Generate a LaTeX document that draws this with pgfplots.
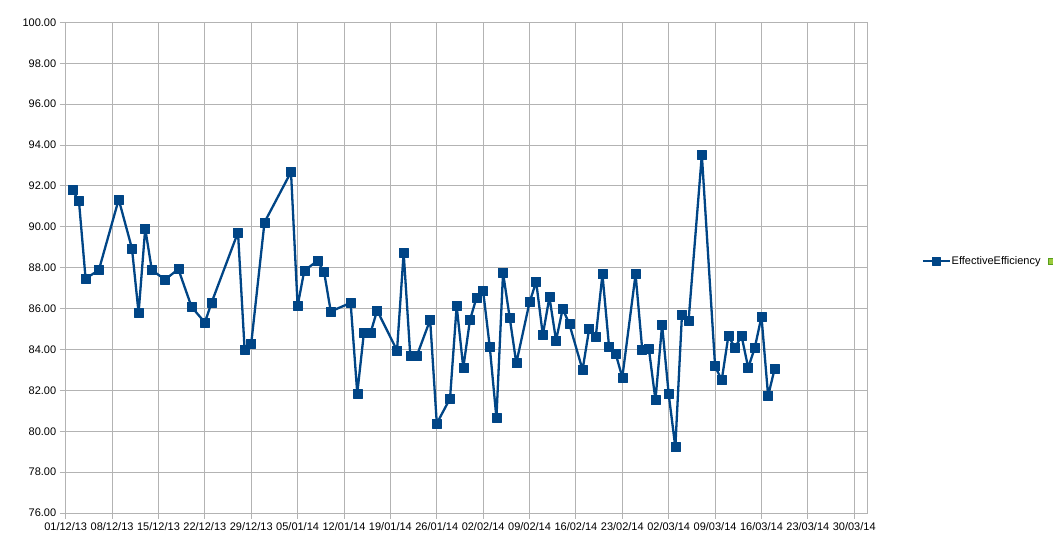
\documentclass[border=0pt]{standalone}
\usepackage{fontspec}
\setmainfont{Liberation Sans}
\usepackage{pgfplots}
\pgfplotsset{compat=1.18}
\definecolor{ser}{HTML}{004586}
\definecolor{gridc}{HTML}{B3B3B3}
\definecolor{grn}{HTML}{9CCB3C}
\definecolor{grnd}{HTML}{579D1C}
\pgfplotsset{legend image code/.code={\draw[#1, mark size=3.8pt, mark repeat=2, mark phase=2] plot coordinates {(0pt,0pt) (13.5pt,0pt) (27pt,0pt)};}}
\begin{document}
\begin{tikzpicture}[x=1pt,y=1pt]
\path[use as bounding box] (0,0) rectangle (1053,549);
\begin{axis}[
  at={(65.7pt,36pt)}, anchor=south west,
  width=801.8pt, height=490.6pt, scale only axis,
  xmin=0, xmax=121, ymin=76, ymax=100,
  xtick={0,7,...,119},
  xticklabels={01/12/13,08/12/13,15/12/13,22/12/13,29/12/13,05/01/14,12/01/14,19/01/14,26/01/14,02/02/14,09/02/14,16/02/14,23/02/14,02/03/14,09/03/14,16/03/14,23/03/14,30/03/14},
  ytick={76,78,...,100},
  grid=major,
  major grid style={gridc, line width=0.9pt},
  axis line style={gridc, line width=0.9pt},
  tick style={gridc, line width=0.9pt},
  tick align=outside, tick pos=left,
  major tick length=6pt,
  yticklabel style={/pgf/number format/.cd, fixed, fixed zerofill, precision=2, assume math mode=true},
  ticklabel style={font=\fontsize{11}{13}\selectfont, black},
  legend columns=-1,
  legend style={at={(axis description cs:1.0675,0.5137)}, anchor=west, draw=none, fill=none,
    font=\fontsize{11}{13}\selectfont, inner sep=0pt, nodes={inner xsep=0.6pt, inner ysep=1.5pt},
    /tikz/every odd column/.style={column sep=0pt},
    /tikz/every even column/.style={column sep=7pt}},
]
\addplot[ser, line width=2.3pt, line join=round, mark=square*, mark size=4.5pt, mark options={solid, fill=ser, draw=ser, line width=0.5pt}]
coordinates {
(1,91.80) (2,91.26) (3,87.47) (5,87.88) (8,91.34) (10,88.94) (11,85.79) (12,89.92)
(13,87.88) (15,87.42) (17,87.93) (19,86.08) (21,85.32) (22,86.28) (26,89.73) (27,84.00)
(28,84.29) (30,90.22) (34,92.68) (35,86.13) (36,87.85) (38,88.34) (39,87.78) (40,85.86)
(43,86.28) (44,81.85) (45,84.81) (46,84.81) (47,85.91) (50,83.95) (51,88.73) (52,83.70)
(53,83.70) (55,85.45) (56,80.38) (58,81.60) (59,86.13) (60,83.10) (61,85.43) (62,86.54)
(63,86.85) (64,84.11) (65,80.65) (66,87.75) (67,85.57) (68,83.33) (70,86.31) (71,87.31)
(72,84.71) (73,86.56) (74,84.44) (75,85.99) (76,85.25) (78,83.00) (79,85.01) (80,84.64)
(81,87.68) (82,84.13) (83,83.78) (84,82.64) (86,87.68) (87,84.01) (88,84.05) (89,81.52)
(90,85.20) (91,81.81) (92,79.22) (93,85.71) (94,85.42) (96,93.52) (98,83.18) (99,82.50)
(100,84.65) (101,84.10) (102,84.65) (103,83.10) (104,84.10) (105,85.61) (106,81.73) (107,83.07)
};
\addlegendentry{EffectiveEfficiency}
\addlegendimage{legend image code/.code={\draw[fill=grn, draw=grnd, line width=0.6pt] (0pt,-3pt) rectangle (6pt,3pt);}}
\addlegendentry{}
\end{axis}
\end{tikzpicture}
\end{document}
